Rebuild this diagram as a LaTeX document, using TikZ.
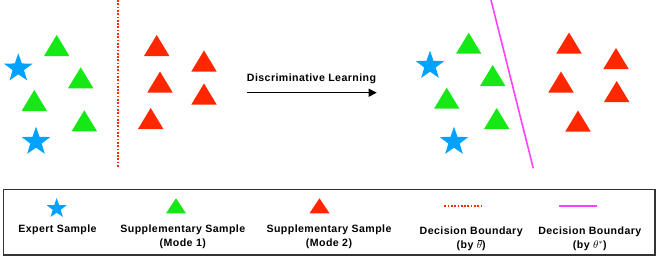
\documentclass[tikz,border=0pt]{standalone}
\usepackage{fontspec}
\setmainfont{Liberation Sans}[LetterSpace=4]
\usetikzlibrary{shapes.geometric,arrows.meta}
\definecolor{starblue}{RGB}{0,162,255}
\definecolor{triG}{RGB}{22,232,22}
\definecolor{triR}{RGB}{255,38,0}
\definecolor{bndM}{RGB}{255,64,255}
\definecolor{bndR}{RGB}{255,40,10}
\newcommand\sampletri[3]{\fill[#1] (#2,#3) -- ++(-12.7,21) -- ++(25.4,0) -- cycle;}
\newcommand\legtri[3]{\fill[#1] (#2,#3) -- ++(-10,15) -- ++(20,0) -- cycle;}
\newcommand\thetabar{\leavevmode\rlap{\kern1.6pt\rule[8.2pt]{3.6pt}{0.45pt}}$\theta$}
\begin{document}
\begin{tikzpicture}[x=1pt,y=-1pt,
  expert/.style={star, star points=5, star point ratio=2.5, fill=starblue, draw=none, inner sep=0pt, minimum size=30pt},
  legstar/.style={expert, minimum size=21pt},
  lbl/.style={font=\fontsize{10.6}{14.3}\selectfont\bfseries, inner sep=0pt, anchor=base, align=center},
  dotbnd/.style={bndR, line width=2pt, dash pattern=on 1.7pt off 1.6pt},
  solbnd/.style={bndM, line width=1.6pt}]
\useasboundingbox (0,0) rectangle (664,260);
% ---- left scene ----
\node[expert] (s1) at (18.3,68.3) {};
\node[expert] (s2) at (36,141.7) {};
\sampletri{triG}{56.7}{35}
\sampletri{triG}{80.7}{67.3}
\sampletri{triG}{34.3}{90}
\sampletri{triG}{84.3}{110.3}
\sampletri{triR}{156.7}{35}
\sampletri{triR}{204}{50.5}
\sampletri{triR}{160}{71.5}
\sampletri{triR}{204}{83.5}
\sampletri{triR}{150.7}{108}
\coordinate (dt) at (118.3,0);
\coordinate (db) at (118.3,167);
\draw[dotbnd] (dt) -- (db);
% ---- arrow ----
\coordinate (as) at (247,92.7);
\coordinate (ae) at (376.7,92.7);
\draw[line width=1.2pt, -{Triangle[length=8pt,width=8pt]}] (as) -- (ae);
\node[lbl] (dl) at (311.5,81.7) {Discriminative Learning};
% ---- right scene ----
\node[expert] (s3) at (430,65.7) {};
\node[expert] (s4) at (454,141.7) {};
\sampletri{triG}{468.7}{32.7}
\sampletri{triG}{492.7}{65}
\sampletri{triG}{446.7}{87.7}
\sampletri{triG}{496.7}{108}
\sampletri{triR}{569}{32.5}
\sampletri{triR}{616}{48}
\sampletri{triR}{561}{71.5}
\sampletri{triR}{616.7}{81}
\sampletri{triR}{578}{110.5}
\coordinate (mt) at (491,0);
\coordinate (mb) at (533.3,168.3);
\draw[solbnd] (mt) -- (mb);
% ---- legend ----
\draw[line width=1.3pt, draw=black!80] (3.3,189.3) rectangle (655,255);
\node[legstar] (ls) at (56.7,208.5) {};
\node[lbl] (l1) at (57.5,232.2) {Expert Sample};
\legtri{triG}{176}{198.3}
\node[lbl] (l2) at (182.8,246.5) {Supplementary Sample\\(Mode 1)};
\legtri{triR}{319.5}{198.3}
\node[lbl] (l3) at (329,246.5) {Supplementary Sample\\(Mode 2)};
\coordinate (lda) at (444.3,205.7);
\coordinate (ldb) at (482.7,205.7);
\draw[dotbnd] (lda) -- (ldb);
\node[lbl] (l4) at (471.2,248.3) {Decision Boundary\\(by \thetabar)};
\coordinate (lma) at (559.3,205.7);
\coordinate (lmb) at (596.7,205.7);
\draw[solbnd] (lma) -- (lmb);
\node[lbl] (l5) at (589.8,248.3) {Decision Boundary\\(by $\theta^{*}$)};
\end{tikzpicture}
\end{document}
